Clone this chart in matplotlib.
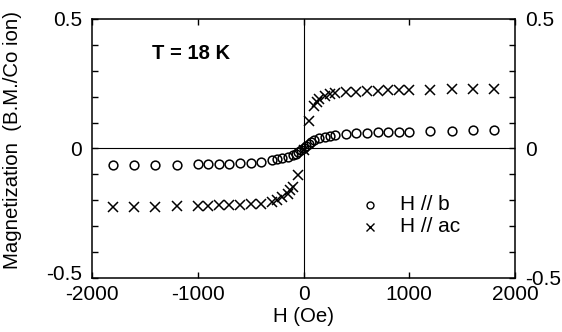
import matplotlib
matplotlib.use("Agg")
import matplotlib.pyplot as plt
from matplotlib.ticker import MultipleLocator
from matplotlib.transforms import ScaledTranslation

plt.rcParams['font.family'] = ['Liberation Sans', 'DejaVu Sans']
plt.rcParams['axes.unicode_minus'] = False

# field sweep, H parallel to b
H_b = [-1800, -1600, -1400, -1200, -1000, -900, -800, -700, -600, -500, -400,
       -300, -250, -200, -150, -100, -75, -50, -25, 0, 25, 50, 75, 100, 150,
       200, 250, 300, 400, 500, 600, 700, 800, 900, 1000, 1200, 1400, 1600, 1800]
M_b = [-0.064, -0.063, -0.063, -0.062, -0.061, -0.060, -0.059, -0.058, -0.057,
       -0.055, -0.051, -0.045, -0.040, -0.036, -0.031, -0.025, -0.020, -0.014,
       -0.007, 0.0, 0.010, 0.019, 0.026, 0.032, 0.039, 0.045, 0.048, 0.051,
       0.055, 0.058, 0.060, 0.062, 0.063, 0.064, 0.065, 0.067, 0.069, 0.070, 0.071]

# field sweep, H parallel to ac
H_ac = [-1800, -1600, -1400, -1200, -1000, -900, -800, -700, -600, -500, -400,
        -300, -250, -200, -150, -125, -100, -50, 0, 50, 100, 125, 150, 200, 250,
        300, 400, 500, 600, 700, 800, 900, 1000, 1200, 1400, 1600, 1800]
M_ac = [-0.225, -0.225, -0.224, -0.223, -0.222, -0.221, -0.220, -0.219, -0.218,
        -0.216, -0.213, -0.208, -0.198, -0.188, -0.175, -0.160, -0.150, -0.103,
        -0.005, 0.107, 0.163, 0.178, 0.192, 0.203, 0.210, 0.214, 0.218, 0.220,
        0.222, 0.223, 0.224, 0.225, 0.226, 0.227, 0.228, 0.228, 0.229]

x_ticks = [-2000, -1000, 0, 1000, 2000]
y_ticks = [-0.5, 0, 0.5]

fig = plt.figure(figsize=(5.62, 3.32), dpi=100)
ax = fig.add_axes([0.1637, 0.1627, 0.7527, 0.7801])

ax.axhline(0, color='black', lw=0.8, zorder=1)
ax.axvline(0, color='black', lw=0.8, zorder=1)

ax.plot(H_b, M_b, 'o', ms=6.3, mfc='none', mec='black', mew=1.1, zorder=3)
ax.plot(H_ac, M_ac, 'x', ms=6.5, color='black', mew=1.1, zorder=3)

ax.set_xlim(-2000, 2000)
ax.set_ylim(-0.5, 0.5)
ax.set_xticks(x_ticks)
ax.set_xticklabels([f'{v:d}' for v in x_ticks])
ax.set_yticks(y_ticks)
ax.set_yticklabels([f'{v:g}' for v in y_ticks])
ax.yaxis.set_minor_locator(MultipleLocator(0.1))

ax.tick_params(which='both', direction='in', top=True, right=True,
               labelright=True, labelsize=15, width=1)
ax.tick_params(axis='y', which='both', length=4, pad=7)
ax.tick_params(axis='y', which='major', labelright=True)
ax.tick_params(axis='x', which='major', length=4, pad=5)
for sp in ax.spines.values():
    sp.set_linewidth(1.1)

# lift the bottom-left -0.5 label a little so it clears -2000
low = ax.yaxis.get_major_ticks()[0].label1
low.set_transform(low.get_transform() + ScaledTranslation(0, 4 / 72, fig.dpi_scale_trans))

ax.set_xlabel('H (Oe)', fontsize=14.7, labelpad=2)
ax.set_ylabel('Magnetization  (B.M./Co ion)', fontsize=14.7)
ax.yaxis.set_label_coords(-0.165, 0.533)

ax.text(0.142, 0.865, 'T = 18 K', transform=ax.transAxes, fontsize=14.5,
        fontweight='bold', va='center')

# legend keys
ax.plot([0.657], [0.282], 'o', ms=5, mfc='none', mec='black', mew=1,
        transform=ax.transAxes)
ax.plot([0.657], [0.197], 'x', ms=5.5, color='black', mew=1,
        transform=ax.transAxes)
ax.text(0.727, 0.282, 'H // b', transform=ax.transAxes, fontsize=15, va='center')
ax.text(0.727, 0.197, 'H // ac', transform=ax.transAxes, fontsize=15, va='center')

fig.savefig('out.png', dpi=100)
